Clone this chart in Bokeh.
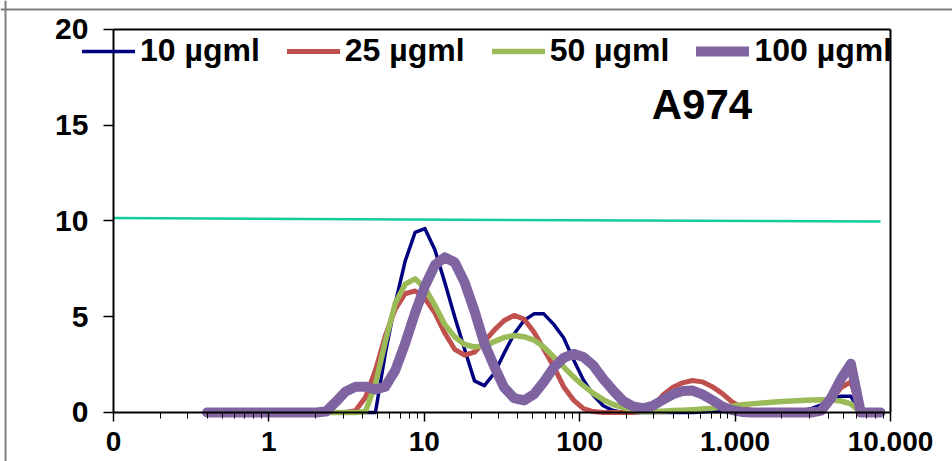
from bokeh.plotting import figure
from bokeh.models import (FixedTicker, CustomJSTickFormatter, Legend, LegendItem,
                          Label, Range1d, Span)
from bokeh.embed import file_html
from bokeh.resources import INLINE

# ---- data -------------------------------------------------------------
sizes = [0.4, 0.4632, 0.5365, 0.6213, 0.7195, 0.8332, 0.9649, 1.117, 1.294, 1.499,
         1.736, 2.01, 2.328, 2.696, 3.122, 3.615, 4.187, 4.849, 5.615, 6.503,
         7.531, 8.721, 10.1, 11.7, 13.54, 15.69, 18.17, 21.04, 24.36, 28.21,
         32.67, 37.84, 43.82, 50.75, 58.77, 68.06, 78.82, 91.28, 105.7, 122.4,
         141.8, 164.2, 190.1, 220.2, 255.0, 295.3, 342.0, 396.1, 458.7, 531.2,
         615.1, 712.4, 825.0, 955.4, 1106, 1281, 1484, 1718, 1990, 2305,
         2669, 3091, 3580, 4145, 4801, 5560, 6439, 7456, 8635]

s10 = [0, 0, 0, 0, 0, 0, 0, 0, 0, 0,
       0, 0, 0, 0, 0, 0, 0, 0, 3.1, 5.7,
       7.9, 9.4, 9.6, 8.5, 6.8, 5.0, 3.3, 1.65, 1.4, 2.05,
       3.1, 4.1, 4.8, 5.15, 5.15, 4.6, 3.9, 2.75, 1.7, 0.9,
       0.35, 0.1, 0, 0, 0, 0, 0, 0, 0, 0,
       0.03, 0.06, 0.05, 0.02, 0, 0, 0, 0, 0, 0,
       0.1, 0.2, 0.4, 0.7, 0.85, 0.85, 0, 0, 0]

s25 = [0, 0, 0, 0, 0, 0, 0, 0, 0, 0,
       0, 0, 0, 0, 0, 0.1, 0.8, 2.2, 4.0, 5.4,
       6.2, 6.35, 5.95, 5.2, 4.15, 3.3, 3.0, 3.15, 3.7, 4.3,
       4.8, 5.07, 4.88, 4.2, 3.3, 2.4, 1.35, 0.65, 0.2, 0.05,
       0, 0, 0, 0, 0.05, 0.3, 0.9, 1.3, 1.55, 1.67,
       1.6, 1.35, 1.0, 0.55, 0.25, 0.1, 0.05, 0, 0, 0,
       0, 0, 0.2, 0.6, 1.3, 1.6, 0, 0, 0]

s50 = [0, 0, 0, 0, 0, 0, 0, 0, 0, 0,
       0, 0, 0, 0, 0, 0, 0.05, 1.5, 3.7, 5.7,
       6.7, 6.98, 6.5, 5.6, 4.6, 3.95, 3.55, 3.42, 3.48, 3.7,
       3.92, 4.02, 3.96, 3.78, 3.42, 2.9, 2.38, 1.86, 1.4, 1.0,
       0.67, 0.42, 0.25, 0.1, 0.05, 0.05, 0.07, 0.1, 0.12, 0.15,
       0.18, 0.22, 0.28, 0.33, 0.4, 0.45, 0.5, 0.54, 0.57, 0.6,
       0.62, 0.65, 0.66, 0.65, 0.6, 0.45, 0, 0, 0]

s100 = [0, 0, 0, 0, 0, 0, 0, 0, 0, 0,
        0, 0, 0.05, 0.55, 1.1, 1.35, 1.35, 1.2, 1.35, 2.2,
        3.6, 5.2, 6.6, 7.7, 8.1, 7.85, 6.8, 5.3, 3.6, 2.4,
        1.3, 0.75, 0.63, 0.95, 1.6, 2.35, 2.85, 3.06, 2.9, 2.45,
        1.75, 1.15, 0.6, 0.32, 0.22, 0.35, 0.65, 0.95, 1.12, 1.15,
        0.95, 0.65, 0.32, 0.12, 0.03, 0, 0, 0, 0, 0,
        0, 0, 0.1, 0.75, 1.75, 2.55, 0, 0, 0]

ref_x = [0.1, 8635]
ref_y = [10.15, 9.97]

series_names = ["10 µgml", "25 µgml", "50 µgml", "100 µgml"]
x_ticks = [0.1, 1, 10, 100, 1000, 10000]
x_tick_labels = ["0", "1", "10", "100", "1.000", "10.000"]
y_ticks = [0, 5, 10, 15, 20]
title_text = "A974"

# ---- layout / styles --------------------------------------------------
FONT = "Liberation Sans"
colors = ["#000080", "#C0504D", "#9BBB59", "#8064A2"]
widths = [3.5, 5, 5.5, 10]

X_MIN, X_MAX = 0.1, 10000          # axis extent
Y_MIN, Y_MAX = 0, 20
VIEW_X = (0.01875, 25060)           # visible range (frame covers whole canvas)
VIEW_Y = (-2.559, 21.514)

p = figure(width=952, height=461, x_axis_type="log",
           x_range=Range1d(*VIEW_X), y_range=Range1d(*VIEW_Y),
           output_backend="svg", toolbar_location=None,
           min_border=0)
p.grid.visible = False
p.outline_line_color = None
p.background_fill_color = "white"
p.border_fill_color = "white"

# outer chart-area border (grey)
p.add_layout(Span(location=21.04, dimension="width", line_color="#808080", line_width=2))
p.add_layout(Span(location=0.0202, dimension="height", line_color="#808080", line_width=2))

# plot-area frame: top and right edges
p.line([X_MIN, X_MAX], [Y_MAX, Y_MAX], line_color="black", line_width=2)
p.line([X_MAX, X_MAX], [Y_MIN, Y_MAX], line_color="black", line_width=2)

# reference line
p.line(ref_x, ref_y, line_color="#10CC98", line_width=2.5)

renderers = []
for ys, c, w in zip([s10, s25, s50, s100], colors, widths):
    r = p.line(sizes, ys, line_color=c, line_width=w,
               line_join="round", line_cap="round")
    renderers.append(r)

legend = Legend(items=[LegendItem(label=n, renderers=[r])
                       for n, r in zip(series_names, renderers)],
                orientation="horizontal", location=(82, 392),
                glyph_width=53, glyph_height=20, label_standoff=5,
                spacing=27, padding=0, margin=0,
                border_line_alpha=0, background_fill_alpha=0,
                label_text_font=FONT, label_text_font_style="bold",
                label_text_font_size="32px", label_text_color="black")
p.add_layout(legend)

# axes
xa = p.xaxis[0]
xa.fixed_location = 0
xa.bounds = (X_MIN, X_MAX)
xa.ticker = FixedTicker(ticks=x_ticks,
                        minor_ticks=[m * 10.0 ** k for k in range(-1, 4) for m in range(2, 10)])
xa.formatter = CustomJSTickFormatter(args=dict(tvals=x_ticks, tlabels=x_tick_labels), code="""
    let best = 0;
    for (let i = 0; i < tvals.length; i++) {
        if (Math.abs(Math.log10(tvals[i]) - Math.log10(tick)) < 1e-6) best = i;
    }
    return tlabels[best];
""")
xa.major_label_text_font = FONT
xa.major_label_text_font_style = "bold"
xa.major_label_text_font_size = "28px"
xa.major_label_text_color = "black"
xa.major_label_standoff = 11
xa.axis_line_color = "black"
xa.axis_line_width = 2
xa.major_tick_line_color = "black"
xa.major_tick_line_width = 1.5
xa.major_tick_out = 9
xa.major_tick_in = 0
xa.minor_tick_line_color = "black"
xa.minor_tick_out = 6
xa.minor_tick_in = 0

ya = p.yaxis[0]
ya.fixed_location = X_MIN
ya.bounds = (Y_MIN, Y_MAX)
ya.ticker = FixedTicker(ticks=y_ticks)
ya.axis_line_color = "black"
ya.axis_line_width = 2
ya.major_tick_line_color = "black"
ya.major_tick_line_width = 1.5
ya.major_tick_out = 10
ya.major_tick_in = 0
ya.minor_tick_line_color = None
ya.major_label_standoff = 15
ya.major_label_text_font = FONT
ya.major_label_text_font_style = "bold"
ya.major_label_text_font_size = "30px"
ya.major_label_text_color = "black"

p.add_layout(Label(x=612, y=16.1, text=title_text, text_align="center",
                   text_baseline="middle", text_font=FONT,
                   text_font_style="bold", text_font_size="42px",
                   text_color="black"))

open("out.html", "w").write(file_html(p, INLINE))
